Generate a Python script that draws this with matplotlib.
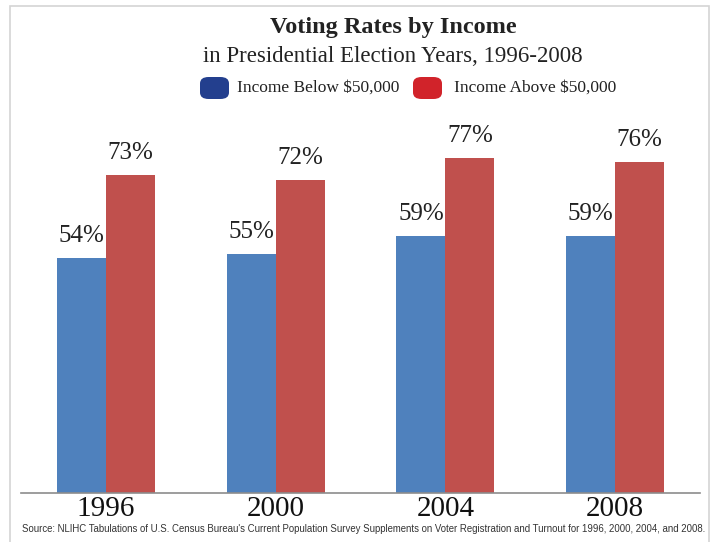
"""Voting rates by income in presidential election years, 1996-2008."""

import matplotlib.pyplot as plt
from matplotlib.patches import FancyBboxPatch, Rectangle

years = ["1996", "2000", "2004", "2008"]
below_50k = [54, 55, 59, 59]
above_50k = [73, 72, 77, 76]

BLUE = "#4f81bd"
RED = "#c0504d"
SERIF = ["Liberation Serif", "DejaVu Serif"]


def main() -> None:
    fig = plt.figure(figsize=(7.14, 5.42), dpi=100)
    W, H = 714, 542

    # light frame around the chart
    fig.add_artist(Rectangle((10 / W, -0.05), 699 / W, 1.05 - 6 / H,
                             transform=fig.transFigure, fill=False,
                             edgecolor="#d4d4d4", linewidth=1.2))

    ax = fig.add_axes([21 / W, 1 - 493 / H, (700 - 21) / W, (493 - 110) / H])
    xs = list(range(len(years)))
    w = 0.288
    ax.bar([x - w / 2 for x in xs], below_50k, width=w, color=BLUE)
    ax.bar([x + w / 2 for x in xs], above_50k, width=w, color=RED)

    for x, b, a in zip(xs, below_50k, above_50k):
        for xx, v in ((x - w / 2, b), (x + w / 2, a)):
            ax.annotate(f"{v}%", (xx, v), xytext=(0, 8), textcoords="offset points",
                        ha="center", va="bottom", fontsize=18, family=SERIF,
                        color="#222222")

    ax.set_xlim(-(106 - 21) / 170, 3 + (700 - 615) / 170)
    ax.set_ylim(0, (493 - 110) / 4.35)
    ax.set_xticks(xs)
    ax.set_xticklabels(years, family=SERIF, fontsize=21, color="#111111")
    ax.tick_params(axis="x", length=0, pad=2)
    ax.set_yticks([])
    for side in ("top", "right", "left"):
        ax.spines[side].set_visible(False)
    ax.spines["bottom"].set_color("#8c8c8c")
    ax.spines["bottom"].set_linewidth(1.2)

    fig.text(393 / W, 1 - 28 / H, "Voting Rates by Income", ha="center",
             va="center", fontsize=17.5, fontweight="bold", family=SERIF,
             color="#222222")
    fig.text(393 / W, 1 - 56 / H, "in Presidential Election Years, 1996-2008",
             ha="center", va="center", fontsize=16.5, family=SERIF, color="#222222")

    # legend: rounded swatches with labels
    for x0, xt, col, label in ((200, 237, "#233f8e", "Income Below $50,000"),
                               (413, 454, "#d1232a", "Income Above $50,000")):
        fig.add_artist(FancyBboxPatch((x0 / W, 1 - 99 / H), 29 / W, 22 / H,
                                      boxstyle="round,pad=0,rounding_size=0.012",
                                      transform=fig.transFigure, facecolor=col,
                                      edgecolor="none"))
        fig.text(xt / W, 1 - 88 / H, label, ha="left", va="center",
                 fontsize=12.5, family=SERIF, color="#222222")

    fig.text(364 / W, 1 - 529 / H,
             "Source: NLIHC Tabulations of U.S. Census Bureau's Current Population "
             "Survey Supplements on Voter Registration and Turnout for 1996, 2000, "
             "2004, and 2008.",
             ha="center", va="center", fontsize=6.9, family="Liberation Sans",
             color="#333333")

    fig.savefig("out.png", dpi=100)


if __name__ == "__main__":
    main()
